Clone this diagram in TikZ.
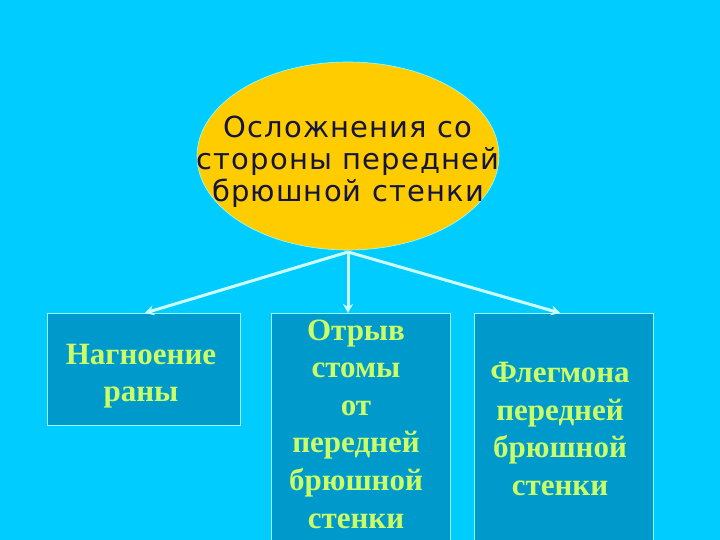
\documentclass[tikz,border=0pt]{standalone}
\usepackage{fontspec}
\setmainfont{Liberation Serif}
\newfontfamily\ellfont[LetterSpace=4]{DejaVu Sans}
\usetikzlibrary{arrows.meta,shapes.geometric}
\definecolor{bgc}{HTML}{00CCFF}
\definecolor{boxc}{HTML}{0099CC}
\definecolor{edgec}{HTML}{99FFFF}
\definecolor{gold}{HTML}{FFCC00}
\definecolor{navy}{HTML}{14143C}
\definecolor{lime}{HTML}{CCFF66}
\definecolor{arrc}{HTML}{CCFFFF}
\tikzset{
  boxstyle/.style={draw=edgec, line width=0.8pt, fill=boxc},
  boxtext/.style={text=lime, font=\fontsize{31}{37.6}\selectfont\bfseries, align=center, inner sep=0pt},
  conn/.style={draw=arrc, line width=3pt, -{Stealth[length=9pt,width=10pt]}},
}
\begin{document}
\begin{tikzpicture}[x=1pt,y=-1pt]
\useasboundingbox (0,0) rectangle (720,540);
\fill[bgc] (0,0) rectangle (720,540);
\clip (0,0) rectangle (720,540);
\node[ellipse, draw=edgec, line width=0.6pt, fill=gold, minimum width=302pt, minimum height=188pt] (e) at (348,156) {};
\node[text=navy, font=\ellfont\fontsize{29}{32}\selectfont, align=center, inner sep=0pt] (et) at (348,162) {Осложнения со\\стороны передней\\брюшной стенки};
\draw[boxstyle] (47,313) rectangle (240,425);
\coordinate (b1) at (145,313);
\draw[boxstyle] (271,313) rectangle (450,560);
\coordinate (b2) at (348,313);
\draw[boxstyle] (474,313) rectangle (653,560);
\coordinate (b3) at (560,313);
\node[boxtext] (t1) at (141,376) {Нагноение\\раны};
\node[boxtext] (t2) at (356,424) {Отрыв\\стомы\\от\\передней\\брюшной\\стенки};
\node[boxtext] (t3) at (560,429) {Флегмона\\передней\\брюшной\\стенки};
\coordinate (o) at (348,252);
\draw[conn] (o) -- (b1);
\draw[conn] (o) -- (b2);
\draw[conn] (o) -- (b3);
\end{tikzpicture}
\end{document}
